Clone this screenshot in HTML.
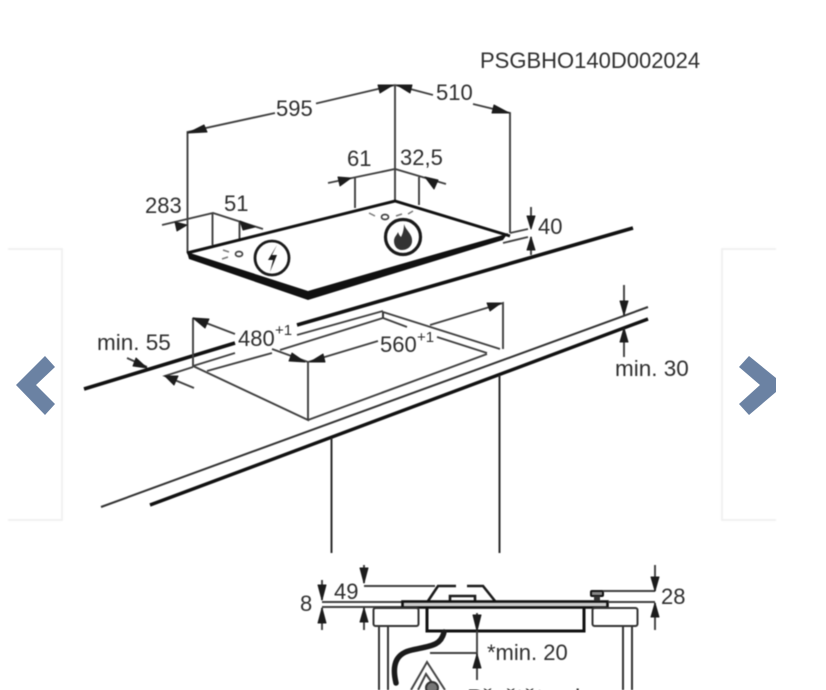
<!DOCTYPE html>
<html><head><meta charset="utf-8"><style>
html,body{margin:0;padding:0;background:#fff;width:826px;height:690px;overflow:hidden}
svg{display:block;position:absolute;left:0;top:0}
text{font-family:"Liberation Sans",sans-serif;fill:#2e2e2e;font-size:22px}
.n{fill:none;stroke:#3f3f3f;stroke-width:1.9}
.k{fill:none;stroke:#1c1c1c;stroke-width:2.6}
.t{fill:none;stroke:#111;stroke-width:3.6}
.a{fill:#1c1c1c;stroke:#1c1c1c;stroke-width:1;stroke-linejoin:round}
</style></head><body>
<svg width="826" height="690" viewBox="0 0 826 690" xmlns="http://www.w3.org/2000/svg">
<!-- side panels -->
<g style="filter:blur(0.8px)">
<path d="M8 249H62V520H8" fill="#fff" stroke="#ececec" stroke-width="1.5"/>
<path d="M776 249H722V520H776" fill="#fff" stroke="#ececec" stroke-width="1.5"/>
</g>
<polygon points="16,385 45,356 55,367 36,385 55,404 45,415" fill="#6b82a3"/>
<polygon points="776,378 776,392 749,415 739,404 760,385 739,367 749,356" fill="#6b82a3"/>

<g style="filter:blur(0.6px)">
<!-- top dims -->
<path class="n" d="M187.500 253V132L275 113M316 103.500L395 85M395 85V201M395 85L433 95M473 104L510 113V233"/>
<path class="n" d="M162 225L213 213L263 229M212.500 213V245M239.500 222V250"/>
<path class="n" d="M328 183L395 169L446 184M355 178V208M419 177V205"/>
<path class="n" d="M510 233L528 229M503 243L528 237M531 207V228M531 237V255"/>
<polygon class="a" points="188,133 204,125 207,132"/>
<polygon class="a" points="393,85 378,85 380,93"/>
<polygon class="a" points="397,85 412,85 410,93"/>
<polygon class="a" points="509,113 494,105 492,113"/>
<polygon class="a" points="187,225 175,222 177,231"/>
<polygon class="a" points="255,227 240,221 243,230"/>
<polygon class="a" points="351,178 338,177 340,186"/>
<polygon class="a" points="425,177 438,180 434,189"/>
<polygon class="a" points="531,229 527,216 535,216"/>
<polygon class="a" points="531,237 527,250 535,250"/>

<!-- hob plate -->
<polygon fill="#111" points="187,252 308,291 508,233 503,240 308,300 189,259"/>
<polygon fill="#fff" points="192,253 395,203 503,235 308,290"/>
<path d="M187 253L395 201L510 236" fill="none" stroke="#111" stroke-width="3"/>
<ellipse cx="239" cy="254" rx="3.500" ry="2.500" fill="#fff" stroke="#444" stroke-width="1.700"/>
<ellipse cx="385" cy="217" rx="3.500" ry="2.500" fill="#fff" stroke="#444" stroke-width="1.700"/>
<path d="M223 250L229 252M222 259L228 257M369 213L375 216M396 216L402 214M408 214L413 211" stroke="#777" stroke-width="1.500" fill="none"/>
<circle cx="272" cy="258" r="17" fill="#fff" stroke="#1a1a1a" stroke-width="2.800"/>
<path d="M277 245L268 260L273 260L270 272L277 255L272 255Z" fill="#1a1a1a"/>
<circle cx="403" cy="237" r="17.500" fill="#fff" stroke="#1a1a1a" stroke-width="3.200"/>
<path d="M404 224C406 231 413 234 412 242C411 248 406 250 402 250C397 250 394 246 394 241C394 237 397 235 398 232C399 235 400 236 401 237C403 233 404 229 404 224Z" fill="#333"/>

<!-- counter back -->
<path class="t" d="M84 389L235 343M297 325L633 228"/>
<path class="n" d="M193 366L235 353M297 335L383 311M207 371L272 353M280 350L383 318L407 327"/>
<path class="n" d="M193 318V366L308 420V362M193 318L235 334M272 349L308 362L378 341M383 312L500 349M437 337L487 353M430 325L503 303V349M308 420L487 354"/>
<path d="M383 312V318" stroke="#333" stroke-width="2"/>
<path class="n" d="M127 358L147 367M194 388L165 376L193 367"/>
<polygon class="a" points="193,318 209,319 205,328"/>
<polygon class="a" points="305,362 292,353 289,361"/>
<polygon class="a" points="310,362 323,354 325,362"/>
<polygon class="a" points="147,368 136,358 133,366"/>
<polygon class="a" points="165,376 178,376 174,385"/>
<polygon class="a" points="501,303 487,303 490,311"/>
<!-- counter front -->
<path d="M101 507L648 307" fill="none" stroke="#333" stroke-width="2"/>
<path d="M150 505L648 319" fill="none" stroke="#111" stroke-width="3.400"/>
<path class="n" d="M624 285V315M624 328V357"/>
<polygon class="a" points="624,315 620,301 628,301"/>
<polygon class="a" points="624,328 620,342 628,342"/>
<path d="M331.500 438V553M499.500 375V553" fill="none" stroke="#2c2c2c" stroke-width="2"/>

<!-- lower section -->
<path class="n" d="M322 580V600M322 608V630M322 602H402M322 607H402M364 565V583M364 586H435M364 607V630"/>
<polygon class="a" points="322,600 318,585 326,585"/><polygon class="a" points="322,608 318,623 326,623"/>
<polygon class="a" points="364,583 360,568 368,568"/><polygon class="a" points="364,608 360,622 368,622"/>
<path class="k" d="M428 601L438 586H456M467 586H483L495 601"/>
<path class="k" stroke-width="2.200" d="M450 601V596H475V601"/>
<rect x="402.500" y="601.500" width="205" height="6" fill="#ccc" stroke="#111" stroke-width="2.600"/>
<path d="M427 607V631H584V607" fill="none" stroke="#111" stroke-width="3"/>
<rect x="373.500" y="608" width="45" height="18" rx="2" fill="#fff" stroke="#333" stroke-width="2"/>
<rect x="592.500" y="608" width="45" height="18" rx="2" fill="#fff" stroke="#333" stroke-width="2"/>
<path d="M379 626V690M388 626V690M623 626V690M632 626V690" fill="none" stroke="#333" stroke-width="2"/>
<path d="M444 632C441 646 430 646 412 650C398 653 391 662 396 683" fill="none" stroke="#1a1a1a" stroke-width="5.500" stroke-linecap="round"/>
<path class="n" d="M430 653H477M477 613V680"/>
<polygon class="a" points="477,631 473,615 481,615"/>
<polygon class="a" points="477,654 473,668 481,668"/>
<rect x="591" y="591" width="12" height="5" rx="1" fill="#888" stroke="#111" stroke-width="2"/>
<rect x="594" y="596" width="6" height="5" fill="#333"/>
<path class="n" d="M603 591H655M608 602H655M655 565V591M655 603V630"/>
<polygon class="a" points="655,591 651,577 659,577"/><polygon class="a" points="655,603 651,617 659,617"/>
<path d="M411 690L427 662L445 690M418 690L426 674L437 690" fill="none" stroke="#444" stroke-width="2"/>
<circle cx="432" cy="688" r="6" fill="#777" stroke="#333" stroke-width="2"/>

<!-- labels -->
<text x="480" y="68">PSGBHO140D002024</text>
<text x="276" y="116">595</text>
<text x="436" y="100">510</text>
<text x="347" y="166">61</text>
<text x="400" y="165">32,5</text>
<text x="145" y="213">283</text>
<text x="224" y="211">51</text>
<text x="538" y="234">40</text>
<text x="97" y="350" style="font-size:22.500px">min. 55</text>
<text x="238" y="346">480</text><text x="275" y="335" style="font-size:15px">+1</text>
<text x="380" y="352">560</text><text x="417" y="342" style="font-size:15px">+1</text>
<text x="615" y="376" style="font-size:22.500px">min. 30</text>
<text x="300" y="611">8</text>
<text x="334" y="599">49</text>
<text x="661" y="604">28</text>
<text x="487" y="660">*min. 20</text>
<text x="467" y="706" style="font-size:24px">Přečtěte si</text>
</g>
</svg>
</body></html>
